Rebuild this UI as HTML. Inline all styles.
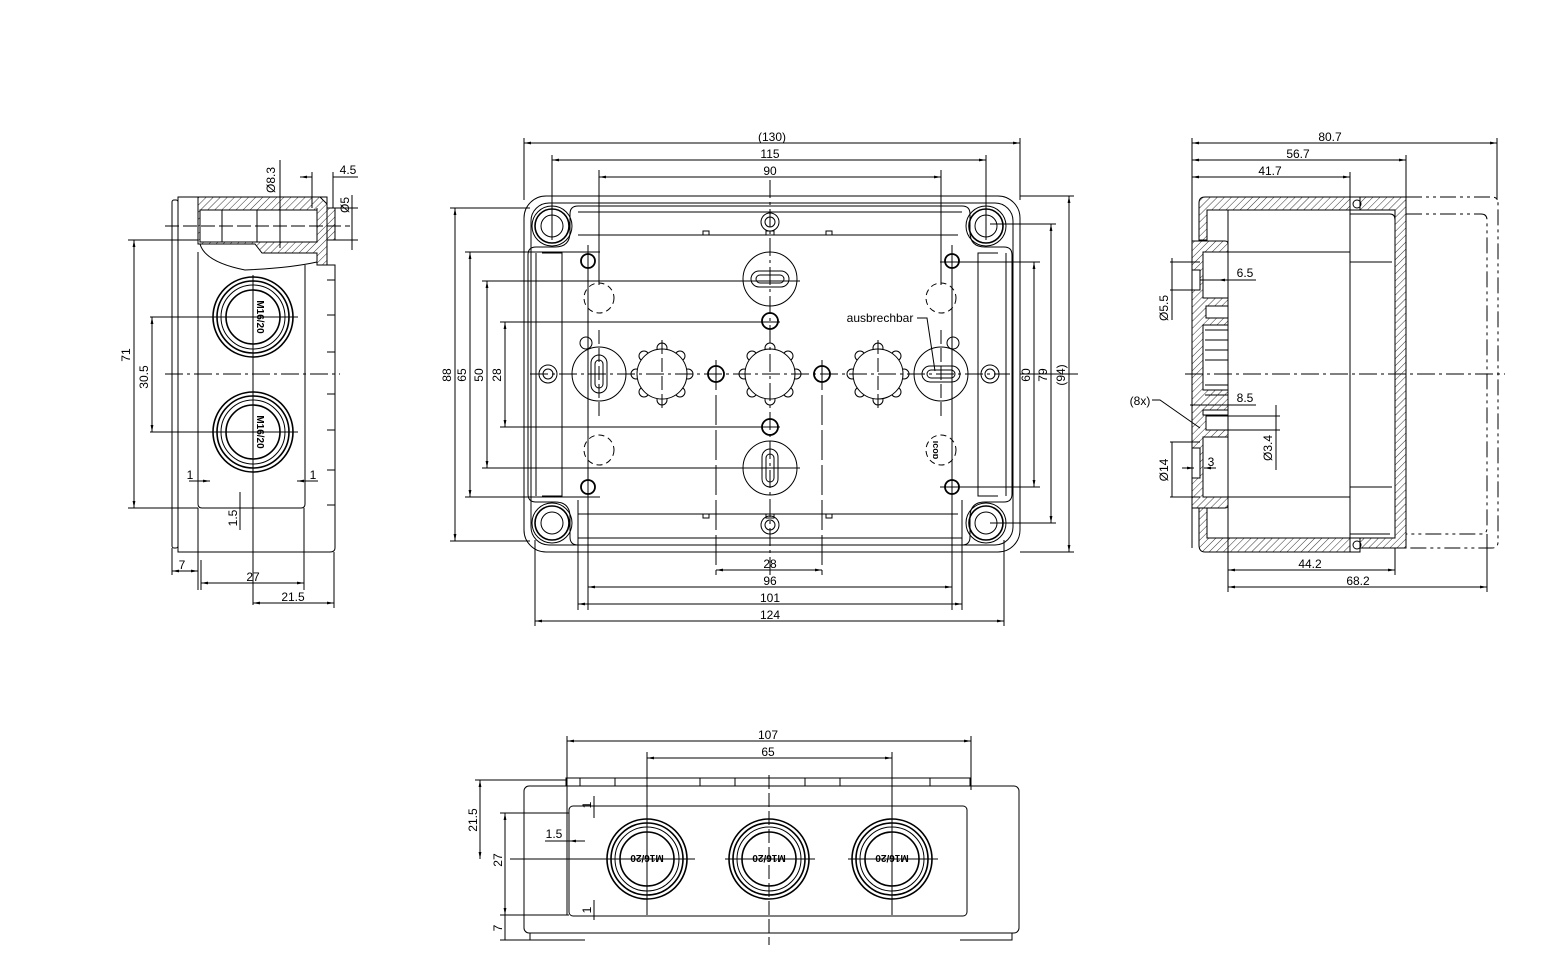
<!DOCTYPE html>
<html><head><meta charset="utf-8"><style>
html,body{margin:0;padding:0;background:#fff;}
svg{display:block;}
text{font-family:"Liberation Sans",sans-serif;font-size:12px;fill:#000;}
</style></head><body>
<svg width="1546" height="974" viewBox="0 0 1546 974" xmlns="http://www.w3.org/2000/svg">
<defs>
<pattern id="h" width="5" height="5" patternUnits="userSpaceOnUse" patternTransform="rotate(45)"><line x1="0" y1="0" x2="0" y2="5" stroke="#000" stroke-width="0.8"/></pattern>
<marker id="a" viewBox="0 0 10 10" refX="10" refY="5" markerWidth="7" markerHeight="7" orient="auto-start-reverse"><path d="M0,3 L10,5 L0,7z" fill="#000"/></marker>
</defs>
<g fill="none" stroke="#000" stroke-width="1">

<!-- ============ LEFT VIEW ============ -->
<rect x="172" y="200" width="6" height="348" rx="2"/>
<path d="M178,197 H327 V265 H335 V548 Q335,552 330,552 H178 Z"/>
<path d="M198,197 H320 L327,204 V208 H335 V240 H327 V265 H317 V253 H262 L255,244 H198 Z" fill="url(#h)"/>
<path d="M200,210 H317 V242 H200 Z" fill="#fff"/>
<line x1="222" y1="210" x2="222" y2="242"/><line x1="257" y1="210" x2="257" y2="242"/><line x1="317" y1="208" x2="317" y2="242"/>
<path d="M200,244 Q205,262 245,270 Q290,268 317,262"/>
<path d="M198,252 V504 Q198,508 202,508 H301 Q305,508 305,504 V265"/>
<path d="M327,280 H335 M327,315 H335 M327,352 H335 M327,394 H335 M327,430 H335 M327,470 H335 M327,505 H335"/>
<line x1="165" y1="226" x2="350" y2="226" stroke-dasharray="14,4"/>
<line x1="165" y1="374" x2="340" y2="374" stroke-dasharray="18,4,3,4"/>
<g stroke-width="1.6">
<circle cx="253" cy="317" r="40"/><circle cx="253" cy="317" r="36"/><circle cx="253" cy="317" r="32" stroke-width="1"/><circle cx="253" cy="317" r="27"/>
<circle cx="253" cy="432" r="40"/><circle cx="253" cy="432" r="36"/><circle cx="253" cy="432" r="32" stroke-width="1"/><circle cx="253" cy="432" r="27"/>
</g>
<line x1="253" y1="275" x2="253" y2="605"/><line x1="205" y1="317" x2="298" y2="317"/><line x1="205" y1="432" x2="298" y2="432"/>
<line x1="280" y1="160" x2="280" y2="248"/>
<line x1="312" y1="172" x2="312" y2="208"/><line x1="333" y1="172" x2="333" y2="208"/>
<line x1="333" y1="177" x2="358" y2="177"/><line x1="312" y1="177" x2="300" y2="177" marker-end="url(#a)"/>
<line x1="335" y1="208" x2="358" y2="208"/><line x1="335" y1="240" x2="358" y2="240"/><line x1="352" y1="195" x2="352" y2="250"/>
<line x1="128" y1="240" x2="198" y2="240"/><line x1="128" y1="508" x2="198" y2="508"/>
<line x1="134" y1="240" x2="134" y2="508" marker-start="url(#a)" marker-end="url(#a)"/>
<line x1="150" y1="317" x2="210" y2="317"/><line x1="150" y1="432" x2="210" y2="432"/>
<line x1="152" y1="317" x2="152" y2="432" marker-start="url(#a)" marker-end="url(#a)"/>
<line x1="189" y1="481" x2="210" y2="481" marker-end="url(#a)"/><line x1="318" y1="481" x2="297" y2="481" marker-end="url(#a)"/>
<line x1="240" y1="492" x2="240" y2="530"/>
<line x1="172" y1="548" x2="172" y2="575"/><line x1="198" y1="508" x2="198" y2="590"/><line x1="201" y1="560" x2="201" y2="590"/><line x1="304" y1="508" x2="304" y2="590"/><line x1="334" y1="552" x2="334" y2="608"/>
<line x1="172" y1="571" x2="198" y2="571" marker-start="url(#a)" marker-end="url(#a)"/>
<line x1="201" y1="583" x2="304" y2="583" marker-start="url(#a)" marker-end="url(#a)"/>
<line x1="253" y1="603" x2="334" y2="603" marker-start="url(#a)" marker-end="url(#a)"/>

<!-- ============ CENTER VIEW ============ -->
<rect x="524" y="196" width="496" height="356" rx="22"/>
<rect x="531" y="203" width="482" height="342" rx="18"/>
<path d="M578,206 H962 Q970,206 970,214 V232 Q970,247 985,247 H1004 Q1012,247 1012,255 V494 Q1012,502 1004,502 H985 Q970,502 970,517 V537 Q970,545 962,545 H578 Q570,545 570,537 V517 Q570,502 555,502 H536 Q528,502 528,494 V255 Q528,247 536,247 H555 Q570,247 570,232 V214 Q570,206 578,206Z"/>
<path d="M578,212 H962 M578,235 H958 M536,253 V496 M1006,253 V496 M578,514 H958 M578,538 H962"/>
<path d="M703,235 V231 H709 V235 M766,235 V231 H774 V235 M826,235 V231 H832 V235 M703,514 V518 H709 V514 M766,514 V518 H774 V514 M826,514 V518 H832 V514"/>
<path d="M542,253 H562 V496 H542 M998,253 H978 V496 H998"/>
<g>
<circle cx="552" cy="226" r="20"/><circle cx="552" cy="226" r="17" stroke-width="1.6"/><circle cx="552" cy="226" r="11"/>
<circle cx="986" cy="226" r="20"/><circle cx="986" cy="226" r="17" stroke-width="1.6"/><circle cx="986" cy="226" r="11"/>
<circle cx="552" cy="523" r="20"/><circle cx="552" cy="523" r="17" stroke-width="1.6"/><circle cx="552" cy="523" r="11"/>
<circle cx="986" cy="523" r="20"/><circle cx="986" cy="523" r="17" stroke-width="1.6"/><circle cx="986" cy="523" r="11"/>
</g>
<g stroke-width="1.8">
<circle cx="588" cy="261" r="7"/><circle cx="952" cy="261" r="7"/><circle cx="588" cy="487" r="7"/><circle cx="952" cy="487" r="7"/>
<circle cx="770" cy="321" r="8"/><circle cx="770" cy="427" r="8"/><circle cx="716" cy="374" r="8"/><circle cx="822" cy="374" r="8"/>
</g>
<circle cx="586" cy="343" r="6"/><circle cx="953" cy="343" r="6"/>
<circle cx="548" cy="374" r="9"/><circle cx="548" cy="374" r="5"/><circle cx="990" cy="374" r="9"/><circle cx="990" cy="374" r="5"/>
<circle cx="770" cy="222" r="9"/><circle cx="770" cy="222" r="5"/><circle cx="770" cy="525" r="9"/><circle cx="770" cy="525" r="5"/>
<g stroke-dasharray="6,4"><circle cx="599" cy="298" r="15"/><circle cx="941" cy="298" r="15"/><circle cx="599" cy="450" r="15"/><circle cx="941" cy="450" r="15"/></g>
<text x="0" y="0" transform="translate(938,450) rotate(-90)" text-anchor="middle" style="font-size:9px;font-weight:bold" stroke="none">ɑoɔı</text>
<g>
<circle cx="770" cy="279" r="27"/><rect x="751" y="271" width="38" height="16" rx="8"/><rect x="756" y="275" width="28" height="8" rx="4"/>
<circle cx="770" cy="468" r="27"/><rect x="762" y="449" width="16" height="38" rx="8"/><rect x="766" y="454" width="8" height="28" rx="4"/>
<circle cx="599" cy="374" r="27"/><rect x="591" y="355" width="16" height="38" rx="8"/><rect x="595" y="360" width="8" height="28" rx="4"/>
<circle cx="941" cy="374" r="27"/><rect x="922" y="366" width="38" height="16" rx="8"/><rect x="927" y="370" width="28" height="8" rx="4"/>
</g>
<g id="star">
<circle cx="662" cy="348" r="5"/><circle cx="662" cy="400" r="5"/><circle cx="636" cy="374" r="5"/><circle cx="688" cy="374" r="5"/>
<circle cx="680" cy="356" r="5"/><circle cx="644" cy="356" r="5"/><circle cx="680" cy="392" r="5"/><circle cx="644" cy="392" r="5"/>
<circle cx="662" cy="374" r="25" fill="#fff"/>
</g>
<use href="#star" x="108"/><use href="#star" x="216"/>
<line x1="530" y1="374" x2="1010" y2="374" stroke-dasharray="18,4,3,4"/>
<line x1="770" y1="180" x2="770" y2="575" stroke-dasharray="18,4,3,4"/>
<line x1="662" y1="340" x2="662" y2="408" stroke-dasharray="14,4"/><line x1="878" y1="340" x2="878" y2="408" stroke-dasharray="14,4"/>
<line x1="599" y1="330" x2="599" y2="420" stroke-dasharray="14,4"/><line x1="941" y1="330" x2="941" y2="420" stroke-dasharray="14,4"/>
<line x1="588" y1="245" x2="588" y2="610"/><line x1="952" y1="245" x2="952" y2="610"/>
<line x1="716" y1="360" x2="716" y2="575" stroke-dasharray="30,5"/><line x1="822" y1="360" x2="822" y2="575" stroke-dasharray="30,5"/>
<line x1="599" y1="170" x2="599" y2="285"/><line x1="941" y1="170" x2="941" y2="285"/>
<line x1="552" y1="155" x2="552" y2="240"/><line x1="986" y1="155" x2="986" y2="240"/>
<line x1="524" y1="138" x2="524" y2="200"/><line x1="1020" y1="138" x2="1020" y2="200"/>
<line x1="524" y1="143" x2="1020" y2="143" marker-start="url(#a)" marker-end="url(#a)"/>
<line x1="552" y1="160" x2="986" y2="160" marker-start="url(#a)" marker-end="url(#a)"/>
<line x1="599" y1="177" x2="941" y2="177" marker-start="url(#a)" marker-end="url(#a)"/>
<line x1="578" y1="500" x2="578" y2="610"/><line x1="962" y1="500" x2="962" y2="610"/><line x1="535" y1="540" x2="535" y2="626"/><line x1="1004" y1="540" x2="1004" y2="626"/>
<line x1="716" y1="570" x2="822" y2="570" marker-start="url(#a)" marker-end="url(#a)"/>
<line x1="588" y1="587" x2="952" y2="587" marker-start="url(#a)" marker-end="url(#a)"/>
<line x1="578" y1="604" x2="962" y2="604" marker-start="url(#a)" marker-end="url(#a)"/>
<line x1="535" y1="621" x2="1004" y2="621" marker-start="url(#a)" marker-end="url(#a)"/>
<line x1="450" y1="208" x2="530" y2="208"/><line x1="450" y1="541" x2="530" y2="541"/>
<line x1="455" y1="208" x2="455" y2="541" marker-start="url(#a)" marker-end="url(#a)"/>
<line x1="465" y1="252" x2="600" y2="252"/><line x1="465" y1="497" x2="600" y2="497"/>
<line x1="470" y1="252" x2="470" y2="497" marker-start="url(#a)" marker-end="url(#a)"/>
<line x1="482" y1="281" x2="800" y2="281"/><line x1="482" y1="468" x2="800" y2="468"/>
<line x1="487" y1="281" x2="487" y2="468" marker-start="url(#a)" marker-end="url(#a)"/>
<line x1="500" y1="322" x2="780" y2="322"/><line x1="500" y1="427" x2="780" y2="427"/>
<line x1="505" y1="322" x2="505" y2="427" marker-start="url(#a)" marker-end="url(#a)"/>
<line x1="940" y1="262" x2="1040" y2="262"/><line x1="940" y1="487" x2="1040" y2="487"/>
<line x1="1034" y1="262" x2="1034" y2="487" marker-start="url(#a)" marker-end="url(#a)"/>
<line x1="990" y1="224" x2="1056" y2="224"/><line x1="990" y1="523" x2="1056" y2="523"/>
<line x1="1051" y1="224" x2="1051" y2="523" marker-start="url(#a)" marker-end="url(#a)"/>
<line x1="1020" y1="196" x2="1074" y2="196"/><line x1="1020" y1="552" x2="1074" y2="552"/>
<line x1="1069" y1="196" x2="1069" y2="552" marker-start="url(#a)" marker-end="url(#a)"/>
<path d="M917,318 H927 L935,371"/>
<line x1="1020" y1="374" x2="1078" y2="374"/>

<!-- ============ RIGHT VIEW ============ -->
<path d="M1199,203 Q1199,197 1205,197 H1350 V210 H1207 V240 H1199 Z" fill="url(#h)"/>
<path d="M1199,545 Q1199,552 1205,552 H1350 V538 H1207 V508 H1199 Z" fill="url(#h)"/>
<path d="M1360,197 H1406 V548 H1360 V538 H1395 V210 H1360 Z" fill="url(#h)"/>
<path d="M1350,197 Q1355,197 1360,197 V210 H1350Z M1350,538 H1360 V552 H1350Z"/>
<circle cx="1357" cy="204" r="4"/><circle cx="1357" cy="545" r="4"/>
<path d="M1192,241 H1225 Q1228,241 1228,244 V252 H1203 V298 H1228 V325 H1203 V390 H1228 V410 H1203 V415 H1228 V437 H1203 V497 H1228 V505 Q1228,508 1225,508 H1192 Z" fill="url(#h)"/>
<path d="M1192,270 H1200 V290 H1192 Z M1192,448 H1200 V478 H1192Z" fill="#fff"/>
<path d="M1206,306 H1228 V318 H1206Z M1206,416 H1228 V430 H1206Z" fill="#fff"/>
<path d="M1205,330 H1228 M1205,340 H1228 M1205,350 H1228 M1205,360 H1228 M1205,385 H1228 M1205,395 H1228"/>
<line x1="1228" y1="210" x2="1228" y2="538"/>
<line x1="1350" y1="210" x2="1350" y2="538"/>
<path d="M1228,252 H1350 V262 H1392 M1228,497 H1350 V487 H1392"/>
<path d="M1350,214 H1390 Q1395,214 1395,220 M1350,534 H1390"/>
<line x1="1192" y1="200" x2="1192" y2="241"/><line x1="1192" y1="508" x2="1192" y2="548"/>
<g stroke-dasharray="16,4,3,4,3,4">
<path d="M1406,197 H1492 Q1498,197 1498,203 V542 Q1498,548 1492,548 H1406"/>
<path d="M1406,214 H1481 Q1487,214 1487,220 V528 Q1487,534 1481,534 H1406"/>
</g>
<line x1="1185" y1="374" x2="1505" y2="374" stroke-dasharray="18,4,3,4"/>
<line x1="1192" y1="138" x2="1192" y2="200"/><line x1="1497" y1="138" x2="1497" y2="200"/><line x1="1406" y1="155" x2="1406" y2="197"/><line x1="1350" y1="172" x2="1350" y2="197"/>
<line x1="1192" y1="143" x2="1497" y2="143" marker-start="url(#a)" marker-end="url(#a)"/>
<line x1="1192" y1="160" x2="1406" y2="160" marker-start="url(#a)" marker-end="url(#a)"/>
<line x1="1192" y1="177" x2="1350" y2="177" marker-start="url(#a)" marker-end="url(#a)"/>
<line x1="1228" y1="538" x2="1228" y2="592"/><line x1="1395" y1="548" x2="1395" y2="575"/><line x1="1487" y1="534" x2="1487" y2="592"/>
<line x1="1228" y1="570" x2="1395" y2="570" marker-start="url(#a)" marker-end="url(#a)"/>
<line x1="1228" y1="587" x2="1487" y2="587" marker-start="url(#a)" marker-end="url(#a)"/>
<line x1="1170" y1="262" x2="1200" y2="262"/><line x1="1170" y1="290" x2="1200" y2="290"/><line x1="1172" y1="258" x2="1172" y2="320"/>
<line x1="1200" y1="280" x2="1256" y2="280"/><line x1="1228" y1="280" x2="1218" y2="280" marker-end="url(#a)"/>
<line x1="1190" y1="405" x2="1256" y2="405"/>
<path d="M1152,400 H1160 L1200,428"/>
<line x1="1206" y1="416" x2="1280" y2="416"/><line x1="1206" y1="430" x2="1280" y2="430"/><line x1="1276" y1="405" x2="1276" y2="470"/>
<line x1="1170" y1="442" x2="1200" y2="442"/><line x1="1170" y1="497" x2="1200" y2="497"/><line x1="1172" y1="442" x2="1172" y2="497"/>
<line x1="1182" y1="468" x2="1194" y2="468" marker-end="url(#a)"/><line x1="1216" y1="468" x2="1204" y2="468" marker-end="url(#a)"/>

<!-- ============ BOTTOM VIEW ============ -->
<path d="M566,786 V778 H970 V786"/>
<path d="M580,778 V786 M615,778 V786 M700,778 V786 M735,778 V786 M805,778 V786 M840,778 V786 M930,778 V786"/>
<rect x="524" y="786" width="495" height="147" rx="5"/>
<rect x="569" y="806" width="398" height="110" rx="4"/>
<path d="M530,933 V940 H585 M960,940 H1012 V933"/>
<g stroke-width="1.6">
<circle cx="647" cy="859" r="40"/><circle cx="647" cy="859" r="36"/><circle cx="647" cy="859" r="32" stroke-width="1"/><circle cx="647" cy="859" r="27"/>
<circle cx="769" cy="859" r="40"/><circle cx="769" cy="859" r="36"/><circle cx="769" cy="859" r="32" stroke-width="1"/><circle cx="769" cy="859" r="27"/>
<circle cx="892" cy="859" r="40"/><circle cx="892" cy="859" r="36"/><circle cx="892" cy="859" r="32" stroke-width="1"/><circle cx="892" cy="859" r="27"/>
</g>
<line x1="510" y1="859" x2="695" y2="859"/><line x1="725" y1="859" x2="815" y2="859"/><line x1="848" y1="859" x2="938" y2="859"/>
<line x1="769" y1="775" x2="769" y2="945" stroke-dasharray="14,4"/>
<line x1="647" y1="752" x2="647" y2="915"/><line x1="892" y1="752" x2="892" y2="915"/>
<line x1="567" y1="736" x2="567" y2="915"/><line x1="971" y1="736" x2="971" y2="790"/>
<line x1="567" y1="741" x2="971" y2="741" marker-start="url(#a)" marker-end="url(#a)"/>
<line x1="647" y1="758" x2="892" y2="758" marker-start="url(#a)" marker-end="url(#a)"/>
<line x1="475" y1="780" x2="566" y2="780"/><line x1="480" y1="780" x2="480" y2="859" marker-start="url(#a)" marker-end="url(#a)"/>
<line x1="500" y1="813" x2="569" y2="813"/><line x1="500" y1="915" x2="569" y2="915"/>
<line x1="505" y1="813" x2="505" y2="915" marker-start="url(#a)" marker-end="url(#a)"/>
<line x1="500" y1="940" x2="530" y2="940"/><line x1="505" y1="915" x2="505" y2="940"/>
<line x1="545" y1="841" x2="585" y2="841"/><line x1="569" y1="841" x2="582" y2="841" marker-start="url(#a)"/>
<line x1="594" y1="796" x2="594" y2="818"/><line x1="594" y1="900" x2="594" y2="920"/>
</g>

<!-- TEXT -->
<g stroke="none">
<text x="275" y="180" transform="rotate(-90 275 180)" text-anchor="middle">Ø8.3</text>
<text x="348" y="174" text-anchor="middle">4.5</text>
<text x="349" y="205" transform="rotate(-90 349 205)" text-anchor="middle">Ø5</text>
<text x="130" y="355" transform="rotate(-90 130 355)" text-anchor="middle">71</text>
<text x="148" y="377" transform="rotate(-90 148 377)" text-anchor="middle">30.5</text>
<text x="190" y="479" text-anchor="middle">1</text><text x="313" y="479" text-anchor="middle">1</text>
<text x="237" y="518" transform="rotate(-90 237 518)" text-anchor="middle">1.5</text>
<text x="182" y="569" text-anchor="middle">7</text>
<text x="253" y="581" text-anchor="middle">27</text>
<text x="293" y="601" text-anchor="middle">21.5</text>
<text x="257" y="317" transform="rotate(90 257 317)" text-anchor="middle" style="font-size:10px;font-weight:bold">M16/20</text>
<text x="257" y="432" transform="rotate(90 257 432)" text-anchor="middle" style="font-size:10px;font-weight:bold">M16/20</text>

<text x="772" y="141" text-anchor="middle">(130)</text>
<text x="770" y="158" text-anchor="middle">115</text>
<text x="770" y="175" text-anchor="middle">90</text>
<text x="451" y="375" transform="rotate(-90 451 375)" text-anchor="middle">88</text>
<text x="466" y="375" transform="rotate(-90 466 375)" text-anchor="middle">65</text>
<text x="483" y="375" transform="rotate(-90 483 375)" text-anchor="middle">50</text>
<text x="501" y="375" transform="rotate(-90 501 375)" text-anchor="middle">28</text>
<text x="1030" y="375" transform="rotate(-90 1030 375)" text-anchor="middle">60</text>
<text x="1047" y="375" transform="rotate(-90 1047 375)" text-anchor="middle">79</text>
<text x="1065" y="375" transform="rotate(-90 1065 375)" text-anchor="middle">(94)</text>
<text x="880" y="322" text-anchor="middle">ausbrechbar</text>
<text x="770" y="568" text-anchor="middle">28</text>
<text x="770" y="585" text-anchor="middle">96</text>
<text x="770" y="602" text-anchor="middle">101</text>
<text x="770" y="619" text-anchor="middle">124</text>

<text x="1330" y="141" text-anchor="middle">80.7</text>
<text x="1298" y="158" text-anchor="middle">56.7</text>
<text x="1270" y="175" text-anchor="middle">41.7</text>
<text x="1245" y="277" text-anchor="middle">6.5</text>
<text x="1168" y="308" transform="rotate(-90 1168 308)" text-anchor="middle">Ø5.5</text>
<text x="1245" y="402" text-anchor="middle">8.5</text>
<text x="1140" y="405" text-anchor="middle">(8x)</text>
<text x="1272" y="448" transform="rotate(-90 1272 448)" text-anchor="middle">Ø3.4</text>
<text x="1168" y="470" transform="rotate(-90 1168 470)" text-anchor="middle">Ø14</text>
<text x="1211" y="466" text-anchor="middle">3</text>
<text x="1310" y="568" text-anchor="middle">44.2</text>
<text x="1358" y="585" text-anchor="middle">68.2</text>

<text x="768" y="739" text-anchor="middle">107</text>
<text x="768" y="756" text-anchor="middle">65</text>
<text x="477" y="820" transform="rotate(-90 477 820)" text-anchor="middle">21.5</text>
<text x="502" y="860" transform="rotate(-90 502 860)" text-anchor="middle">27</text>
<text x="502" y="928" transform="rotate(-90 502 928)" text-anchor="middle">7</text>
<text x="554" y="838" text-anchor="middle">1.5</text>
<text x="591" y="805" transform="rotate(-90 591 805)" text-anchor="middle">1</text>
<text x="591" y="910" transform="rotate(-90 591 910)" text-anchor="middle">1</text>
<text x="647" y="863" transform="rotate(180 647 859)" text-anchor="middle" style="font-size:10px;font-weight:bold">M16/20</text>
<text x="769" y="863" transform="rotate(180 769 859)" text-anchor="middle" style="font-size:10px;font-weight:bold">M16/20</text>
<text x="892" y="863" transform="rotate(180 892 859)" text-anchor="middle" style="font-size:10px;font-weight:bold">M16/20</text>
</g>
</svg>
</body></html>
